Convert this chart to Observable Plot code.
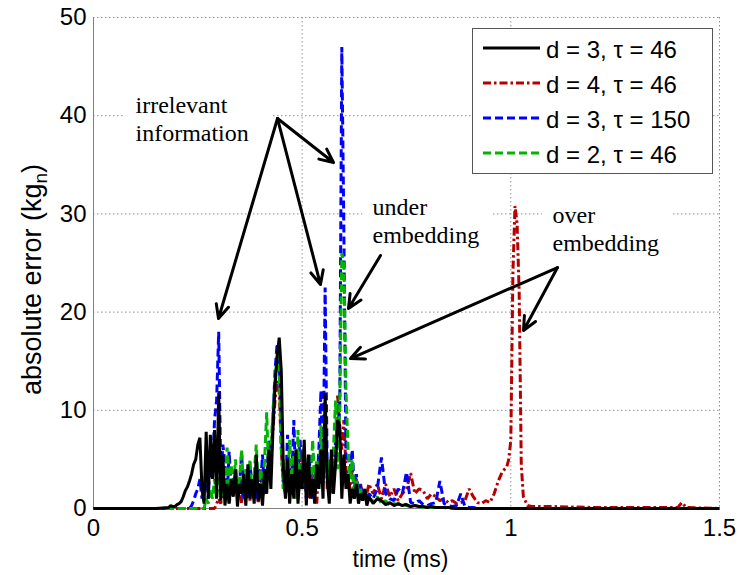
<!DOCTYPE html>
<html><head><meta charset="utf-8">
<script src="https://cdn.jsdelivr.net/npm/d3@7"></script>
<script src="https://cdn.jsdelivr.net/npm/@observablehq/plot@0.6"></script>
<style>body{margin:0;background:#fff}</style>
</head><body><div id="chart"></div>
<script>
// time axis (ms)
const time = [
 0, 0.1, 0.15, 0.18, 0.185, 0.19, 0.195, 0.2, 0.205, 0.21,
 0.215, 0.22, 0.225, 0.23, 0.235, 0.24, 0.245, 0.25, 0.255, 0.26,
 0.265, 0.27, 0.275, 0.28, 0.285, 0.29, 0.295, 0.3, 0.305, 0.31,
 0.315, 0.32, 0.325, 0.33, 0.335, 0.34, 0.345, 0.35, 0.355, 0.36,
 0.365, 0.37, 0.375, 0.38, 0.385, 0.39, 0.395, 0.4, 0.405, 0.41,
 0.415, 0.42, 0.425, 0.43, 0.435, 0.44, 0.445, 0.45, 0.455, 0.46,
 0.465, 0.47, 0.475, 0.48, 0.485, 0.49, 0.495, 0.5, 0.505, 0.51,
 0.515, 0.52, 0.525, 0.53, 0.535, 0.54, 0.545, 0.55, 0.555, 0.56,
 0.565, 0.57, 0.575, 0.58, 0.585, 0.59, 0.595, 0.6, 0.605, 0.61,
 0.615, 0.62, 0.625, 0.63, 0.635, 0.64, 0.645, 0.65, 0.655, 0.66,
 0.67, 0.68, 0.69, 0.7, 0.71, 0.72, 0.73, 0.74, 0.75, 0.76,
 0.77, 0.78, 0.79, 0.8, 0.81, 0.82, 0.83, 0.84, 0.85, 0.86,
 0.87, 0.88, 0.89, 0.9, 0.91, 0.92, 0.93, 0.94, 0.95, 0.96,
 0.97, 0.98, 0.99, 0.995, 1.0, 1.005, 1.01, 1.015, 1.02, 1.025,
 1.03, 1.04, 1.05, 1.1, 1.2, 1.3, 1.4, 1.41, 1.42, 1.5
];
// d = 3, tau = 46 (black)
const errD3T46 = [
 0,0,0,0.1,0.3,0.2,0.2,0.4,0.5,0.7,
 1.2,1.8,2.2,2.8,3.5,4.5,5.0,6.5,7.2,2.0,
 0.5,7.8,1.0,7.5,3.0,8.0,1.0,11.8,0.8,5.5,
 0.3,2.5,0.5,3.0,1.2,4.0,0.2,2.5,1.5,3.5,
 0.3,4.5,1.0,3.0,0.5,5.5,0.8,2.5,0.3,4.0,
 1.5,6.0,2.0,8.0,12.5,15.5,17.4,14.0,4.0,1.0,
 5.0,0.5,3.5,1.0,6.0,0.5,4.0,2.0,7.0,0.3,
 5.5,1.0,3.0,0.5,4.5,2.0,6.0,1.0,11.7,3.0,
 0.5,6.0,1.5,4.5,9.0,8.5,1.0,5.5,2.0,3.5,
 0.5,2.0,1.0,2.5,0.5,1.5,0.8,2.0,0.3,1.2,
 0.5,1.0,0.8,0.4,0.6,0.3,0.5,0.3,0.4,0.2,
 0.3,0.2,0.2,0.1,0.2,0.1,0.1,0.1,0.1,0.05,
 0,0,0,0,0,0,0,0,0,0,
 0,0,0,0,0,0,0,0,0,0,
 0,0,0,0,0,0,0,0,0,0
];
// d = 4, tau = 46 (red)
const errD4T46 = [
 0,0,0,0,0,0,0,0,0,0,
 0,0,0,0,0,0,0,0,0,0,
 0,0,0,0,0,0,0.5,1,0.5,2,
 1,3,0.5,2,1.5,3.5,1,2.5,0.5,3,
 1,2.5,0.8,3,1.5,2,0.5,4,1,2.5,
 3,5,6,8,11,13,12,6,2,4,
 1.5,3,5,2,4,1,3.5,6,2,3,
 1,4,2,3,0.5,5,2.5,4,10,2,
 3,1.5,5,4,11.5,8,6,9,4,3,
 2,4,1.5,3,1,2.5,1,2,1.5,2.5,
 1.5,2.5,1,2.5,1.2,2,0.8,1.5,2,3.6,
 1.5,2,1.8,1,1.5,1.2,0.8,1,0.6,0.8,
 0.5,0.6,0.8,2,1.2,0.6,0.5,0.8,0.6,1.5,
 2.8,3.8,4.2,5.0,7,24,30.8,29,22,4.5,
 1.2,0.3,0.2,0.2,0.1,0.1,0.1,0.6,0.1,0
];
// d = 3, tau = 150 (blue)
const errD3T150 = [
 0,0,0,0,0,0,0,0,0,0,
 0,0,0,0,0.3,0.8,1.5,2,3,1,
 2,4,1,6,3,9,11,18.0,3,6.5,
 4.5,1,5.8,2,3,4,1.5,2.5,5.6,1,
 3,1,4.5,2,3.5,1,4,2,5.5,1.5,
 3,7,4,9,14,16.8,15,8,3,1.5,
 7.5,1,3,9,2,4,7,3,5,1,
 3,5.5,1,4,2,6,12,3,22.5,4,
 2,5,3,7,8,10,47,28,5,5.5,
 4,6,2,3.5,1,2.5,1,2,0.8,1.5,
 1,2,5.2,1.5,1,0.8,2,1.5,3.7,0.6,
 0.5,0.8,0.4,0.3,0.5,0.6,2.8,0.5,0.3,0.2,
 0.3,1.5,0.2,0.1,0.1,0,0,0,0,0,
 0,0,0,0,0,0,0,0,0,0,
 0,0,0,0,0,0,0,0,0,0
];
// d = 2, tau = 46 (green)
const errD2T46 = [
 0,0,0,0,0,0,0,0,0,0,
 0,0,0,0,0,0,0,0,0,0,
 0,1,0.5,2,1,3,1,4,1,3,
 1,6.2,2,4.5,1.5,5,2,3,6,1.5,
 4,2,5,1,3.5,6.5,2,4,1,5,
 9.8,3,6,10,13,15.5,14,6,2,5,
 2,7,3,5.5,1,8,2,4,6,2,
 4,1.5,7,3,5,2,8.5,4,7,3,
 5,2,6,11,4,10.5,26,25,12,6,
 3,5,1.5,3,1,2,0.8,1.5,0.5,1,
 0.8,1.2,0.5,0.8,0.3,0.5,0.4,0.6,0.3,0.2,
 0.3,0.2,0.1,0.2,0.1,0.1,0.1,0.1,0,0,
 0,0,0,0,0,0,0,0,0,0,
 0,0,0,0,0,0,0,0,0,0,
 0,0,0,0,0,0,0,0,0,0
];
const legendLabels = ["d = 3, τ = 46", "d = 4, τ = 46", "d = 3, τ = 150", "d = 2, τ = 46"];
const xTicks = [0, 0.5, 1, 1.5];
const yTicks = [0, 10, 20, 30, 40, 50];
const xGrid = [0.5, 1, 1.5];
const yGrid = [10, 20, 30, 40, 50];

// annotations (data units)
const noteTexts = ["irrelevant\ninformation", "under\nembedding", "over\nembedding"];
const noteX = [0.1006, 0.6685, 1.0998];
const noteY = [37.47, 26.99, 26.27];
const noteBoxes = [
 {x1: 0.077, x2: 0.43, y1: 36.5, y2: 42.8},
 {x1: 0.645, x2: 0.958, y1: 25.8, y2: 32.4},
 {x1: 1.076, x2: 1.39, y1: 25.0, y2: 31.7}
];
const arrowFromX = [0.4409, 0.4409, 0.4409, 0.6877, 1.1118, 1.1118];
const arrowFromY = [39.71, 39.71, 39.71, 25.76, 24.54, 24.54];
const arrowToX = [0.2995, 0.5439, 0.5751, 0.611, 0.6158, 1.0304];
const arrowToY = [19.35, 22.81, 35.23, 20.37, 15.27, 18.13];

const series = [
 {label: legendLabels[1], values: errD4T46, color: "#b40000", dash: "8,3,2.5,3"},
 {label: legendLabels[2], values: errD3T150, color: "#0000ff", dash: "8,4"},
 {label: legendLabels[3], values: errD2T46, color: "#00b400", dash: "8,4"},
 {label: legendLabels[0], values: errD3T46, color: "#000000", dash: null}
];

const arrows = arrowFromX.map((x, i) => ({x1: x, y1: arrowFromY[i], x2: arrowToX[i], y2: arrowToY[i]}));
const notes = noteTexts.map((t, i) => ({text: t, x: noteX[i], y: noteY[i]}));
const grid = {stroke: "#909090", strokeWidth: 1, strokeDasharray: "1.5,2.5"};

const lineMarks = series.map(s => Plot.line(time.map((t, i) => ({t, v: s.values[i]})), {
  x: "t", y: "v", stroke: s.color, strokeWidth: 3,
  strokeDasharray: s.dash || undefined, strokeLinejoin: "miter", strokeLinecap: "butt"
}));

const chart = Plot.plot({
  width: 738, height: 575,
  marginLeft: 93, marginRight: 19, marginTop: 17, marginBottom: 67,
  style: {fontFamily: "'Liberation Sans', Arial, sans-serif", fontSize: "24px", background: "white", color: "black"},
  x: {domain: [0, 1.5], ticks: xTicks, tickFormat: d => String(d), tickSize: 0, tickPadding: 10, label: null},
  y: {domain: [0, 50], ticks: yTicks, tickFormat: d => String(d), tickSize: 0, tickPadding: 7, label: null},
  marks: [
    Plot.ruleY(yGrid, grid),
    Plot.ruleX(xGrid, grid),
    Plot.rect(noteBoxes, {x1: "x1", x2: "x2", y1: "y1", y2: "y2", fill: "white"}),
    Plot.ruleX([0], {stroke: "#808080", strokeWidth: 1}),
    Plot.ruleY([0], {stroke: "#808080", strokeWidth: 1}),
    ...lineMarks,
    Plot.arrow(arrows, {x1: "x1", y1: "y1", x2: "x2", y2: "y2", stroke: "black", strokeWidth: 3, headLength: 7.5, headAngle: 50}),
    Plot.text(notes, {x: "x", y: "y", text: "text", textAnchor: "start", lineAnchor: "bottom", lineHeight: 1.167,
      fontFamily: "'Liberation Serif', 'Times New Roman', serif", fontSize: 24, fill: "black"}),
    Plot.text(["time (ms)"], {frameAnchor: "bottom", textAnchor: "middle", lineAnchor: "middle", dx: -6, dy: 51.6, fontSize: 23, fill: "black"}),
    Plot.text(["absolute error (kg_n)"], {frameAnchor: "left", textAnchor: "middle", lineAnchor: "middle", rotate: -90, dx: -61.6, dy: 16.5, fontSize: 27, fill: "black"})
  ]
});
document.getElementById("chart").appendChild(chart);

// subscript n in the y label
d3.select(chart).selectAll("text").filter(function() { return this.textContent === "absolute error (kg_n)"; })
  .each(function() {
    const t = d3.select(this);
    t.text("");
    t.append("tspan").text("absolute error (kg");
    t.append("tspan").attr("dy", 6).attr("font-size", 19).text("n");
    t.append("tspan").attr("dy", -6).text(")");
  });

// legend
const lg = d3.select(chart).append("g")
  .attr("font-family", "'Liberation Sans', Arial, sans-serif").attr("font-size", 24)
  .attr("text-anchor", "start");
lg.append("rect").attr("x", 472.5).attr("y", 28.5).attr("width", 240).attr("height", 145)
  .attr("fill", "white").attr("stroke", "#555").attr("stroke-width", 1);
const legendOrder = [series[3], series[0], series[1], series[2]];
legendOrder.forEach((s, i) => {
  const cy = 48 + i * 35;
  lg.append("line").attr("x1", 483).attr("x2", 540).attr("y1", cy).attr("y2", cy)
    .attr("stroke", s.color).attr("stroke-width", 3).attr("stroke-dasharray", s.dash);
  lg.append("text").attr("x", 546).attr("y", cy + 10).attr("fill", "black")
    .style("text-anchor", "start").text(s.label);
});
</script>
</body></html>
